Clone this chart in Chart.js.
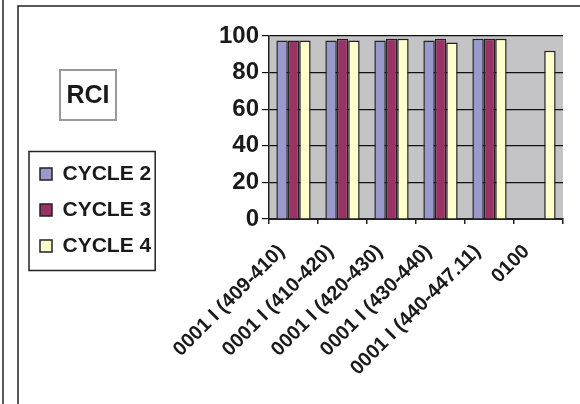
<!DOCTYPE html>
<html>
<head>
<meta charset="utf-8">
<script src="https://cdn.jsdelivr.net/npm/chart.js@4.4.1/dist/chart.umd.min.js"></script>
<style>
  html, body { margin: 0; padding: 0; background: #fff; }
  #wrap { position: relative; width: 580px; height: 404px; }
</style>
</head>
<body>
<div id="wrap"><canvas id="rciChart" width="580" height="404"></canvas></div>
<script>
// data
const chartTitle = "RCI";
const categories = ["0001 I (409-410)", "0001 I (410-420)", "0001 I (420-430)", "0001 I (430-440)", "0001 I (440-447.11)", "0100"];
const cycle2 = [97.5, 97.5, 97.5, 97.5, 98.5, null];
const cycle3 = [97.5, 98.5, 98.5, 98.5, 98.5, null];
const cycle4 = [97.5, 97.5, 98.5, 96.5, 98.5, 92];
const yTicks = [0, 20, 40, 60, 80, 100];

// grey plot area, page frame, title box and legend box
const decorations = {
  id: "decorations",
  beforeDraw(chart) {
    const { ctx, chartArea } = chart;
    ctx.save();
    ctx.fillStyle = "#c4c4c6";
    ctx.fillRect(chartArea.left, chartArea.top, chartArea.right - chartArea.left, chartArea.bottom - chartArea.top);
    // frame lines
    ctx.strokeStyle = "#222";
    ctx.lineWidth = 1.5;
    ctx.beginPath();
    ctx.moveTo(3, 0); ctx.lineTo(3, 404);
    ctx.moveTo(18, 404); ctx.lineTo(18, 6); ctx.lineTo(580, 6);
    ctx.stroke();
    ctx.restore();
  },
  afterDraw(chart) {
    const { ctx } = chart;
    ctx.save();
    // title box
    ctx.strokeStyle = "#999";
    ctx.lineWidth = 2;
    ctx.strokeRect(60, 70, 56, 50);
    ctx.fillStyle = "#1a1a1a";
    ctx.font = "bold 25px Arial, 'Liberation Sans', sans-serif";
    ctx.textAlign = "center";
    ctx.textBaseline = "middle";
    ctx.fillText(chartTitle, 88, 96);
    // legend box
    const hb = chart.legend.legendHitBoxes;
    if (hb && hb.length) {
      const x0 = hb[0].left - 11;
      const y0 = hb[0].top - 12;
      let x1 = 0;
      hb.forEach(h => { x1 = Math.max(x1, h.left + h.width); });
      const last = hb[hb.length - 1];
      ctx.strokeStyle = "#222";
      ctx.lineWidth = 1.5;
      ctx.strokeRect(x0, y0, x1 + 4 - x0, last.top + last.height + 14 - y0);
    }
    ctx.restore();
  }
};

const ctx = document.getElementById("rciChart").getContext("2d");
const rciChart = new Chart(ctx, {
  type: "bar",
  data: {
    labels: categories,
    datasets: [
      { label: "CYCLE 2", data: cycle2, backgroundColor: "#9999cc", borderColor: "#222", borderWidth: 1.5 },
      { label: "CYCLE 3", data: cycle3, backgroundColor: "#993366", borderColor: "#222", borderWidth: 1.5 },
      { label: "CYCLE 4", data: cycle4, backgroundColor: "#ffffcc", borderColor: "#222", borderWidth: 1.5 },
    ],
  },
  options: {
    responsive: false,
    animation: false,
    layout: { padding: { left: 25, top: 36, bottom: 20, right: 17 } },
    datasets: { bar: { categoryPercentage: 0.7, barPercentage: 1.0 } },
    plugins: {
      title: { display: false },
      tooltip: { enabled: false },
      legend: {
        position: "left",
        labels: {
          boxWidth: 12,
          boxHeight: 12,
          padding: 15,
          color: "#1a1a1a",
          font: { family: "Arial, 'Liberation Sans', sans-serif", size: 21, weight: "bold" },
        },
      },
    },
    scales: {
      x: {
        grid: { drawOnChartArea: false, drawTicks: true, tickLength: 5, color: "#222", lineWidth: 1.5 },
        border: { color: "#222", width: 2 },
        ticks: {
          minRotation: 45,
          maxRotation: 45,
          padding: 16,
          labelOffset: -12,
          color: "#1a1a1a",
          font: { family: "Arial, 'Liberation Sans', sans-serif", size: 20, weight: "bold" },
        },
        afterFit(scale) { scale.height = 165; },
      },
      y: {
        min: 0,
        max: 100,
        afterBuildTicks(scale) { scale.ticks = yTicks.map(v => ({ value: v })); },
        grid: { color: "#111", lineWidth: 1.2, tickLength: 7 },
        border: { color: "#222", width: 1.5 },
        ticks: {
          padding: 3,
          color: "#1a1a1a",
          font: { family: "Arial, 'Liberation Sans', sans-serif", size: 24, weight: "bold" },
        },
        afterFit(scale) { scale.width = 269 - 25 - scale.chart.legend.width; },
      },
    },
  },
  plugins: [decorations],
});
</script>
</body>
</html>
